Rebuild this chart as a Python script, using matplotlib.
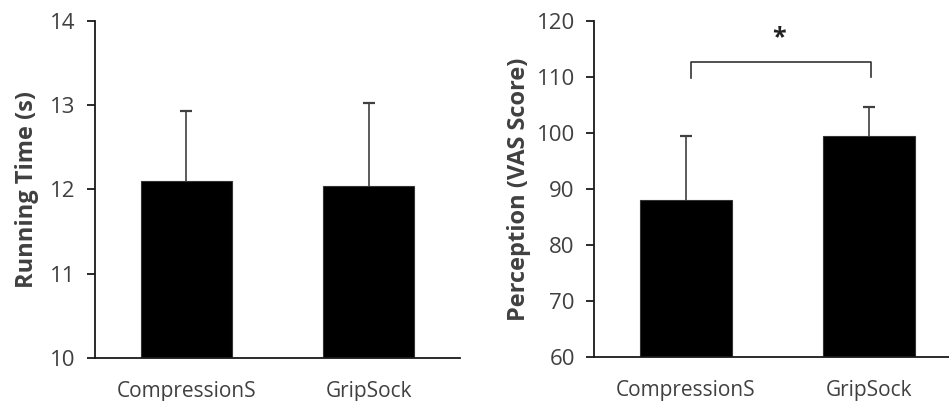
import matplotlib.pyplot as plt

# data
categories = ["CompressionS", "GripSock"]
run_time = [12.10, 12.04]
run_time_err = [0.83, 0.98]
perception = [88.0, 99.5]
perception_err = [11.4, 5.2]
run_ticks = [10, 11, 12, 13, 14]
perc_ticks = [60, 70, 80, 90, 100, 110, 120]

plt.rcParams["font.family"] = ["Open Sans", "DejaVu Sans"]
text_col = "#404040"

fig = plt.figure(figsize=(9.49, 4.01), dpi=100)
ax1 = fig.add_axes([0.1001, 0.1065, 0.3846, 0.8419])
ax2 = fig.add_axes([0.6262, 0.1090, 0.3857, 0.8394])


def style_axes(ax, ticks, ylabel, labelpad=8):
    x = range(len(categories))
    ax.set_xlim(-0.5, len(categories) - 0.5)
    ax.set_ylim(ticks[0], ticks[-1])
    ax.set_yticks(ticks)
    ax.set_xticks(list(x))
    ax.set_xticklabels(categories)
    for s in ("top", "right"):
        ax.spines[s].set_visible(False)
    for s in ("left", "bottom"):
        ax.spines[s].set_linewidth(1.3)
        ax.spines[s].set_color("#1a1a1a")
    ax.tick_params(axis="y", length=6, width=1.3, color="#1a1a1a",
                   labelsize=16, labelcolor=text_col, pad=8)
    ax.tick_params(axis="x", length=0, labelsize=15, labelcolor=text_col, pad=16)
    ax.set_ylabel(ylabel, fontsize=17, fontweight="bold", color=text_col, labelpad=labelpad)


def draw_bars(ax, vals, errs):
    x = list(range(len(categories)))
    ax.bar(x, vals, width=0.5, color="black", edgecolor="#333333", linewidth=0.8, zorder=2)
    tops = [v + e for v, e in zip(vals, errs)]
    # upper error bars only, cap on top
    ax.vlines(x, vals, tops, color="#404040", linewidth=1.2, zorder=3)
    ax.plot(x, tops, linestyle="none", marker="_", markersize=9,
            markeredgewidth=1.6, color="#404040", zorder=3)


draw_bars(ax1, run_time, run_time_err)
style_axes(ax1, run_ticks, "Running Time (s)")

draw_bars(ax2, perception, perception_err)
style_axes(ax2, perc_ticks, "Perception (VAS Score)", labelpad=4)

# significance bracket
ax2.plot([0.03, 0.03, 1.01, 1.01], [109.7, 112.7, 112.7, 109.9],
         color="#333333", linewidth=1.2, clip_on=False)
ax2.text(0.51, 117.0, "*", ha="center", va="center", fontsize=18,
         fontweight="bold", color="#222222")

fig.savefig("out.png", dpi=100)
